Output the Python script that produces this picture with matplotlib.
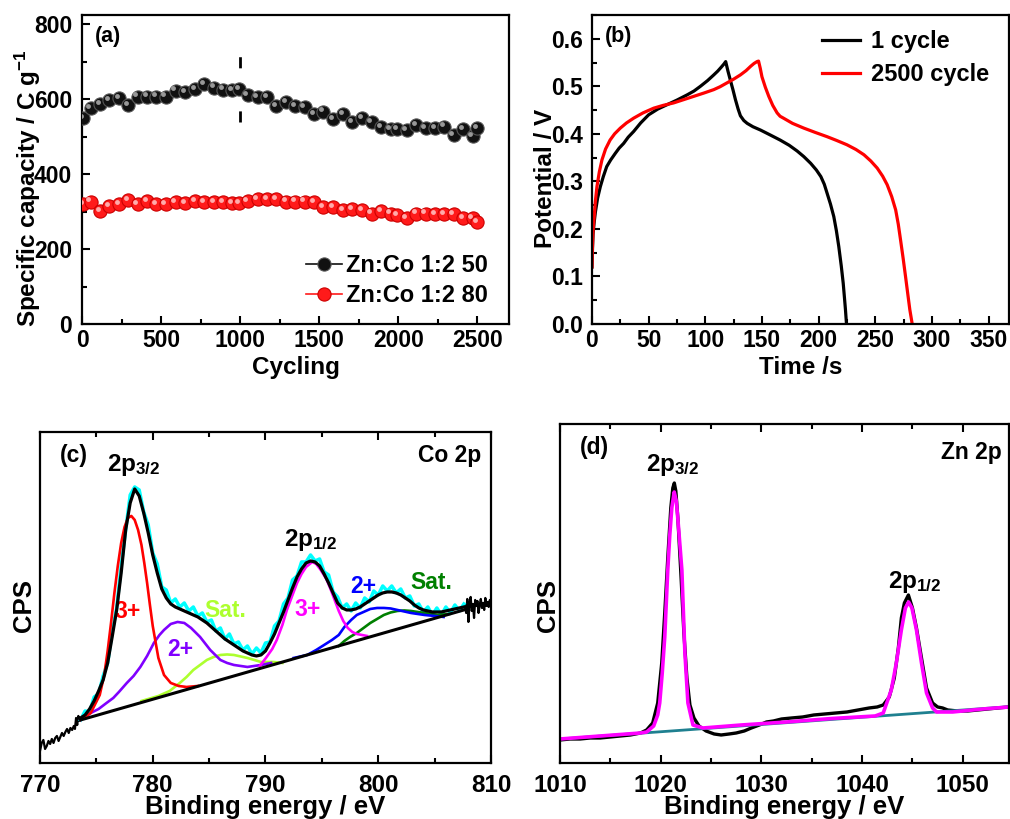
import numpy as np
import matplotlib
matplotlib.use("Agg")
import matplotlib.pyplot as plt
from matplotlib.ticker import MultipleLocator, NullLocator, FormatStrFormatter
from matplotlib.transforms import offset_copy

plt.rcParams["font.family"] = ["Liberation Sans", "DejaVu Sans"]
plt.rcParams["font.weight"] = "bold"
plt.rcParams["axes.labelweight"] = "bold"
plt.rcParams["mathtext.fontset"] = "custom"
plt.rcParams["mathtext.rm"] = "Liberation Sans:bold"
plt.rcParams["mathtext.it"] = "Liberation Sans:bold"
plt.rcParams["mathtext.bf"] = "Liberation Sans:bold"
plt.rcParams["axes.linewidth"] = 1.6

# ---- (a) cycling stability ----
cycles = [6, 55, 112, 171, 233, 292, 351, 410, 469, 529, 592, 653, 715, 774, 833,
          894, 951, 992, 1047, 1110, 1169, 1228, 1290, 1349, 1408, 1467, 1526, 1588,
          1649, 1710, 1772, 1831, 1892, 1951, 1994, 2053, 2114, 2173, 2233, 2290,
          2349, 2408, 2469, 2497]
cap_50 = [549, 576, 587, 598, 604, 584, 607, 607, 607, 607, 623, 620, 627, 640, 631,
          626, 625, 627, 611, 605, 605, 582, 593, 582, 580, 560, 567, 547, 560, 538,
          549, 540, 525, 520, 520, 518, 530, 522, 522, 527, 504, 520, 502, 522]
cap_80 = [320, 327, 302, 315, 320, 331, 320, 328, 320, 320, 325, 322, 328, 325, 325,
          325, 322, 322, 328, 334, 334, 333, 327, 327, 327, 325, 313, 313, 304, 306,
          304, 295, 302, 295, 291, 282, 295, 295, 293, 293, 293, 282, 282, 273]
labels_a = ["Zn:Co 1:2 50", "Zn:Co 1:2 80"]

# ---- (b) charge/discharge ----
t_1 = [0, 0.5, 1, 2, 3, 5, 7.4, 10, 13, 16.5, 20.6, 24, 28, 32, 36.8, 43, 50, 58, 66,
       75, 84, 90, 95.7, 102, 107.5, 111, 114, 116.5, 118, 120, 122, 124.5, 126.6,
       129, 131, 134, 137, 142, 148.7, 157, 166, 174, 181, 187, 193, 198, 202, 205,
       207.5, 210.5, 213.4, 215.7, 217.8, 220, 221.7, 223, 223.7, 224.6]
v_1 = [0.12, 0.16, 0.19, 0.215, 0.235, 0.265, 0.289, 0.31, 0.331, 0.345, 0.359, 0.37,
       0.380, 0.393, 0.405, 0.423, 0.44, 0.452, 0.461, 0.471, 0.482, 0.49, 0.50,
       0.512, 0.524, 0.532, 0.540, 0.547, 0.552, 0.532, 0.514, 0.492, 0.472, 0.452,
       0.438, 0.428, 0.422, 0.415, 0.408, 0.398, 0.387, 0.376, 0.364, 0.352, 0.338,
       0.324, 0.31, 0.294, 0.275, 0.252, 0.226, 0.196, 0.163, 0.122, 0.086, 0.05,
       0.03, 0.0]
t_2500 = [0, 0.4, 0.8, 1.4, 2, 3, 4.4, 6.5, 8.8, 12, 16, 20, 25, 30.5, 36.8, 45, 54.5,
          63, 72, 81, 90, 99, 107.5, 113, 119, 125, 131, 136, 140, 143, 145.7, 147,
          148.5, 150, 153, 156, 159.5, 163.4, 166, 169, 177, 187, 197, 207.5, 216,
          225, 233, 240, 246, 251.7, 256.5, 260.5, 264.5, 268, 270.3, 272.3, 274.6,
          276.7, 278.7, 280.5, 282.6]
v_2500 = [0.12, 0.16, 0.19, 0.21, 0.226, 0.258, 0.289, 0.32, 0.345, 0.368, 0.387, 0.40,
          0.412, 0.423, 0.433, 0.444, 0.454, 0.460, 0.465, 0.472, 0.479, 0.486, 0.493,
          0.499, 0.507, 0.515, 0.524, 0.533, 0.542, 0.548, 0.552, 0.553, 0.538, 0.52,
          0.498, 0.479, 0.46, 0.444, 0.437, 0.433, 0.422, 0.412, 0.403, 0.394, 0.386,
          0.377, 0.367, 0.356, 0.343, 0.328, 0.311, 0.293, 0.268, 0.24, 0.21, 0.177,
          0.138, 0.1, 0.063, 0.03, 0.0]
labels_b = ["1 cycle", "2500 cycle"]

# ---- (c) Co 2p XPS ----
co_x = np.linspace(773.6, 807.6, 86)
co_raw = [43, 52, 51, 66, 69, 87, 100, 131, 155, 197, 233, 268, 276, 273, 251, 238,
          210, 199, 176, 173, 160, 164, 156, 160, 152, 156, 147, 150, 141, 143, 132,
          135, 124, 129, 119, 121, 113, 117, 109, 115, 110, 120, 121, 137, 142, 159,
          165, 183, 187, 201, 201, 208, 202, 204, 191, 188, 171, 166, 155, 159, 152,
          160, 155, 165, 161, 172, 168, 177, 172, 177, 170, 174, 165, 167, 157, 159,
          151, 156, 148, 155, 148, 156, 150, 158, 152, 159]
co_fit = [45, 48, 54, 62, 72, 83, 100, 126, 153, 190, 233, 260, 274, 267, 250, 230,
          208, 190, 174, 165, 159, 156, 154, 152, 150, 148, 146, 143, 140, 136, 132,
          128, 124, 121, 118, 115, 112, 110, 108, 107, 108, 112, 120, 129, 140, 151,
          163, 175, 186, 194, 200, 202, 201, 197, 189, 180, 170, 160, 155, 153, 153,
          154, 156, 159, 162, 165, 168, 170, 171, 171, 170, 168, 165, 162, 158, 155,
          153, 152, 151, 151, 151, 152, 153, 154, 155, 156]
co_left_x = [770.0, 770.15, 770.3, 770.45, 770.6, 770.75, 770.9, 771.05, 771.2, 771.35,
             771.5, 771.65, 771.8, 771.95, 772.1, 772.25, 772.4, 772.55, 772.7, 772.85,
             773.0, 773.1, 773.2, 773.3, 773.4, 773.5, 773.6]
co_left_y = [12, 20, 23, 14, 17, 22, 19, 24, 20, 25, 27, 22, 26, 30, 27, 31, 34, 30,
             35, 33, 37, 34, 45, 38, 47, 42, 45]
co_right_x = np.linspace(807.6, 810.0, 25)
co_right_y = [156, 158, 150, 164, 141, 160, 166, 152, 159, 145, 163, 157, 162, 150,
              158, 164, 155, 160, 153, 165, 157, 161, 156, 163, 159]
co_bg_x = [773.6, 807.6]
co_bg_y = [43, 153]
co3_a_x = [773.6, 774.5, 775.3, 775.7, 776.0, 776.3, 776.6, 776.9, 777.2, 777.5, 777.8,
           778.1, 778.4, 778.7, 779.0, 779.25, 779.5, 779.75, 780.0, 780.5, 781.0,
           781.6, 782.3, 783.0, 784.0]
co3_a_y = [43, 50, 68, 88, 112, 140, 170, 197, 220, 236, 245, 247, 243, 233, 218, 200,
           180, 158, 137, 105, 88, 80, 77, 76, 77]
co2_a_x = [773.6, 774.5, 775.2, 775.9, 776.5, 777.0, 777.7, 778.3, 778.9, 779.5, 780.1,
           780.6, 781.0, 781.6, 782.2, 782.8, 783.4, 784.2, 785.1, 786.0, 786.6,
           787.2, 788.4, 789.6, 790.5]
co2_a_y = [43, 50, 54, 60, 65, 71, 80, 87, 96, 107, 120, 128, 133, 139, 141, 140, 135,
           126, 113, 103, 100, 98, 96, 98, 100]
sat_a_x = [779.0, 780.5, 781.5, 782.4, 783.0, 783.6, 784.2, 784.8, 785.4, 786.0, 786.6,
           787.2, 787.8, 788.4, 789.6, 790.7, 791.5]
sat_a_y = [62, 67, 72, 80, 86, 93, 98, 103, 106, 108, 108.5, 108, 106.5, 105, 101,
           101, 100]
co3_b_x = [789.5, 790.1, 790.6, 791.0, 791.5, 791.9, 792.4, 792.8, 793.2, 793.6,
           794.15, 794.5, 794.9, 795.4, 795.8, 796.2, 796.5, 796.9, 797.3, 797.7,
           798.1, 799.0]
co3_b_y = [97, 106, 114, 123, 138, 153, 168, 180, 189, 196, 201, 199, 193, 184, 173,
           161, 152, 142, 135, 131, 129, 127]
co2_b_x = [792.5, 793.7, 794.5, 795.2, 795.9, 796.5, 797.0, 797.6, 798.1, 798.7,
           799.3, 799.9, 800.5, 801.1, 801.7, 802.3, 802.9, 804.1, 805.0, 805.8]
co2_b_y = [105, 108, 113, 118, 123, 128, 136, 143, 148, 151, 154, 155, 155, 154.5,
           153, 151.5, 150, 148, 147, 146]
sat_b_x = [796.5, 797.0, 797.5, 798.1, 798.7, 799.3, 799.9, 800.5, 801.1, 801.7, 802.3,
           802.9, 803.5, 804.1, 805.3, 806.3]
sat_b_y = [117, 122, 126, 130, 135, 140, 144, 148, 150.5, 152, 152.5, 152, 151, 150,
           148, 149]

# ---- (d) Zn 2p XPS ----
zn_x = [1010, 1011, 1012, 1013, 1014, 1015, 1016, 1017, 1018, 1018.6, 1019.2, 1019.7,
        1020.1, 1020.4, 1020.7, 1021.0, 1021.2, 1021.35, 1021.5, 1021.7, 1022.0,
        1022.3, 1022.6, 1022.9, 1023.3, 1023.8, 1024.5, 1025.3, 1026.0, 1026.8,
        1027.5, 1028.3, 1029.0, 1029.8, 1030.5, 1031.2, 1032.0, 1033.0, 1034.1,
        1035.2, 1036.3, 1037.4, 1038.5, 1039.6, 1040.7, 1041.5, 1042.1, 1042.7,
        1043.2, 1043.6, 1043.9, 1044.2, 1044.6, 1045.0, 1045.4, 1045.9, 1046.4,
        1047.0, 1047.5, 1048.0, 1048.5, 1049.5, 1050.5, 1051.5, 1052.5, 1053.5, 1054.6]
zn_raw = [23, 24, 24, 25, 25, 26, 27, 28, 30, 33, 40, 60, 100, 150, 205, 255, 275,
          280, 272, 245, 190, 130, 85, 58, 45, 37, 32, 29, 28, 29, 30, 32, 35, 38, 41,
          42, 44, 45, 46, 48, 49, 50, 51, 53, 55, 56, 58, 66, 85, 115, 145, 160, 168,
          155, 135, 105, 75, 60, 56, 55, 53, 52, 52, 53, 54, 55, 56]
zn_fit_x = [1010, 1014, 1018.0, 1018.6, 1019.3, 1019.7, 1019.9, 1020.15, 1020.4,
            1020.7, 1020.9, 1021.1, 1021.34, 1021.55, 1021.75, 1022.1, 1022.4, 1022.7,
            1023.2, 1024.2, 1028, 1032.5, 1037, 1041.3, 1042.1, 1042.9, 1043.4, 1043.9,
            1044.3, 1044.62, 1044.95, 1045.4, 1045.9, 1046.4, 1047.0, 1047.4, 1049.0,
            1052, 1054.6]
zn_fit = [24, 27, 30, 31, 37, 48, 60, 90, 126, 193, 228, 255, 271, 262, 238, 193, 110,
          60, 38, 35, 38, 41, 44.5, 47, 50, 73, 100, 133, 155, 161, 155, 133, 100, 70,
          55, 51, 51, 54, 56]
zn_bg_x = [1010, 1054.6]
zn_bg_y = [24, 56.3]

fig = plt.figure(figsize=(10.1, 8.19), dpi=100)
ax_a = fig.add_axes([0.0812, 0.6044, 0.4228, 0.3773])
ax_b = fig.add_axes([0.5861, 0.6044, 0.4129, 0.3773])
ax_c = fig.add_axes([0.0396, 0.0684, 0.4465, 0.4042])
ax_d = fig.add_axes([0.5545, 0.0684, 0.4446, 0.4139])

TICK = 16.5
LAB = 17.5


def style(ax, size=TICK):
    ax.tick_params(which="both", direction="in", width=1.5, labelsize=size)
    ax.tick_params(which="major", length=6)
    ax.tick_params(which="minor", length=3.5)
    for lab in ax.get_xticklabels() + ax.get_yticklabels():
        lab.set_fontweight("bold")


def spheres(ax, x, y, face, edge, hl, label):
    ax.plot(x, y, "-", color=face, lw=1.2, marker="o", ms=9.5, mfc=face, mec=edge,
            mew=0.8, label=label, zorder=3)
    tr = offset_copy(ax.transData, fig=fig, x=-1.6, y=1.6, units="points")
    ax.plot(x, y, "o", ms=3.5, mfc=hl, mec="none", alpha=0.8, transform=tr, zorder=4)


# (a)
spheres(ax_a, cycles, cap_50, "#111111", "#555555", "#bbbbbb", labels_a[0])
spheres(ax_a, cycles, cap_80, "#ff1a1a", "#cc0000", "#ffd0d0", labels_a[1])
ax_a.plot([1000, 1000], [540, 715], color="black", lw=2, dashes=(4, 15.5), zorder=2)
ax_a.set_xlim(0, 2700)
ax_a.set_ylim(0, 825)
ax_a.xaxis.set_major_locator(MultipleLocator(500))
ax_a.xaxis.set_minor_locator(MultipleLocator(250))
ax_a.yaxis.set_major_locator(MultipleLocator(200))
ax_a.yaxis.set_minor_locator(MultipleLocator(100))
style(ax_a)
ax_a.tick_params(axis="y", pad=7)
ax_a.set_xlabel("Cycling", fontsize=LAB, fontweight="bold")
ax_a.set_ylabel("Specific capacity / C g$^{-1}$", fontsize=LAB, fontweight="bold")
ax_a.xaxis.set_label_coords(0.5, -0.105)
ax_a.yaxis.set_label_coords(-0.091, 0.44)
ax_a.text(0.03, 0.93, "(a)", transform=ax_a.transAxes, fontsize=15.5,
          fontweight="bold", va="center")
ax_a.legend(loc="lower right", bbox_to_anchor=(0.99, 0.0), frameon=False,
            fontsize=17, handlelength=1.5, handletextpad=0.2, labelspacing=0.3,
            borderaxespad=0.3)

# (b)
ax_b.plot(t_1, v_1, color="black", lw=2.3, label=labels_b[0])
ax_b.plot(t_2500, v_2500, color="#ff0000", lw=2.3, label=labels_b[1])
ax_b.set_xlim(0, 368)
ax_b.set_ylim(0, 0.65)
ax_b.xaxis.set_major_locator(MultipleLocator(50))
ax_b.xaxis.set_minor_locator(MultipleLocator(25))
ax_b.yaxis.set_major_locator(MultipleLocator(0.1))
ax_b.yaxis.set_minor_locator(MultipleLocator(0.05))
ax_b.yaxis.set_major_formatter(FormatStrFormatter("%.1f"))
style(ax_b)
ax_b.tick_params(axis="y", pad=6.5)
ax_b.set_xlabel("Time /s", fontsize=LAB, fontweight="bold")
ax_b.set_ylabel("Potential / V", fontsize=LAB, fontweight="bold")
ax_b.xaxis.set_label_coords(0.5, -0.105)
ax_b.yaxis.set_label_coords(-0.084, 0.47)
ax_b.text(0.03, 0.93, "(b)", transform=ax_b.transAxes, fontsize=15.5,
          fontweight="bold", va="center")
ax_b.legend(loc="upper right", bbox_to_anchor=(0.99, 1.0), frameon=False,
            fontsize=17, handlelength=1.6, handletextpad=0.5, labelspacing=0.4,
            borderaxespad=0.25)

# (c)
ax_c.plot(co_left_x, co_left_y, color="black", lw=1.6)
ax_c.plot(co_right_x, co_right_y, color="black", lw=1.6)
ax_c.plot(co_x, co_raw, color="#00ffff", lw=2.5)
ax_c.plot(co_bg_x, co_bg_y, color="black", lw=2.2, zorder=3)
ax_c.plot(sat_a_x, sat_a_y, color="#adff2f", lw=1.9)
ax_c.plot(co2_a_x, co2_a_y, color="#8000ff", lw=1.9)
ax_c.plot(co3_a_x, co3_a_y, color="#ff0000", lw=1.9)
ax_c.plot(sat_b_x, sat_b_y, color="#008000", lw=1.9)
ax_c.plot(co2_b_x, co2_b_y, color="#0000ff", lw=1.9)
ax_c.plot(co3_b_x, co3_b_y, color="#ff00ff", lw=1.9)
ax_c.plot(co_x, co_fit, color="black", lw=2.3, zorder=4)
ax_c.set_xlim(770, 810)
ax_c.set_ylim(0, 331)
ax_c.xaxis.set_major_locator(MultipleLocator(10))
ax_c.xaxis.set_minor_locator(MultipleLocator(5))
ax_c.yaxis.set_major_locator(NullLocator())
ax_c.tick_params(axis="x", which="both", top=True)
style(ax_c, 17.5)
ax_c.tick_params(axis="x", pad=8)
ax_c.set_xlabel("Binding energy / eV", fontsize=18.5, fontweight="bold")
ax_c.set_ylabel("CPS", fontsize=18.5, fontweight="bold")
ax_c.xaxis.set_label_coords(0.5, -0.097)
ax_c.yaxis.set_label_coords(-0.009, 0.477)
ax_c.text(0.045, 0.93, "(c)", transform=ax_c.transAxes, fontsize=16.5,
          fontweight="bold", va="center")
ax_c.text(0.978, 0.93, "Co 2p", transform=ax_c.transAxes, fontsize=16.5,
          fontweight="bold", va="center", ha="right")
ax_c.text(778.3, 298, "2p$_{3/2}$", fontsize=17.5, ha="center", va="center")
ax_c.text(794.0, 223, "2p$_{1/2}$", fontsize=17.5, ha="center", va="center")
for x, y, s, c in [(777.8, 151, "3+", "#ff0000"), (782.4, 113, "2+", "#8000ff"),
                   (786.4, 152, "Sat.", "#adff2f"), (793.7, 153, "3+", "#ff00ff"),
                   (798.7, 176, "2+", "#0000ff"), (804.7, 180, "Sat.", "#008000")]:
    ax_c.text(x, y, s, color=c, fontsize=16.5, fontweight="bold", ha="center",
              va="center")

# (d)
ax_d.plot(zn_x, zn_raw, color="black", lw=2.4)
ax_d.plot(zn_bg_x, zn_bg_y, color="#1f8090", lw=2)
ax_d.plot(zn_fit_x, zn_fit, color="#ff00ff", lw=2.6)
ax_d.set_xlim(1010, 1054.6)
ax_d.set_ylim(0, 339)
ax_d.xaxis.set_major_locator(MultipleLocator(10))
ax_d.xaxis.set_minor_locator(MultipleLocator(5))
ax_d.yaxis.set_major_locator(NullLocator())
ax_d.tick_params(axis="x", which="both", top=True)
style(ax_d, 17.5)
ax_d.tick_params(axis="x", pad=8)
ax_d.set_xlabel("Binding energy / eV", fontsize=18.5, fontweight="bold")
ax_d.set_ylabel("CPS", fontsize=18.5, fontweight="bold")
ax_d.xaxis.set_label_coords(0.5, -0.095)
ax_d.yaxis.set_label_coords(0.0, 0.466)
ax_d.text(0.045, 0.93, "(d)", transform=ax_d.transAxes, fontsize=16.5,
          fontweight="bold", va="center")
ax_d.text(0.983, 0.915, "Zn 2p", transform=ax_d.transAxes, fontsize=16.5,
          fontweight="bold", va="center", ha="right")
ax_d.text(1021.2, 298, "2p$_{3/2}$", fontsize=17.5, ha="center", va="center")
ax_d.text(1045.2, 181, "2p$_{1/2}$", fontsize=17.5, ha="center", va="center")

fig.savefig("out.png", dpi=100)
